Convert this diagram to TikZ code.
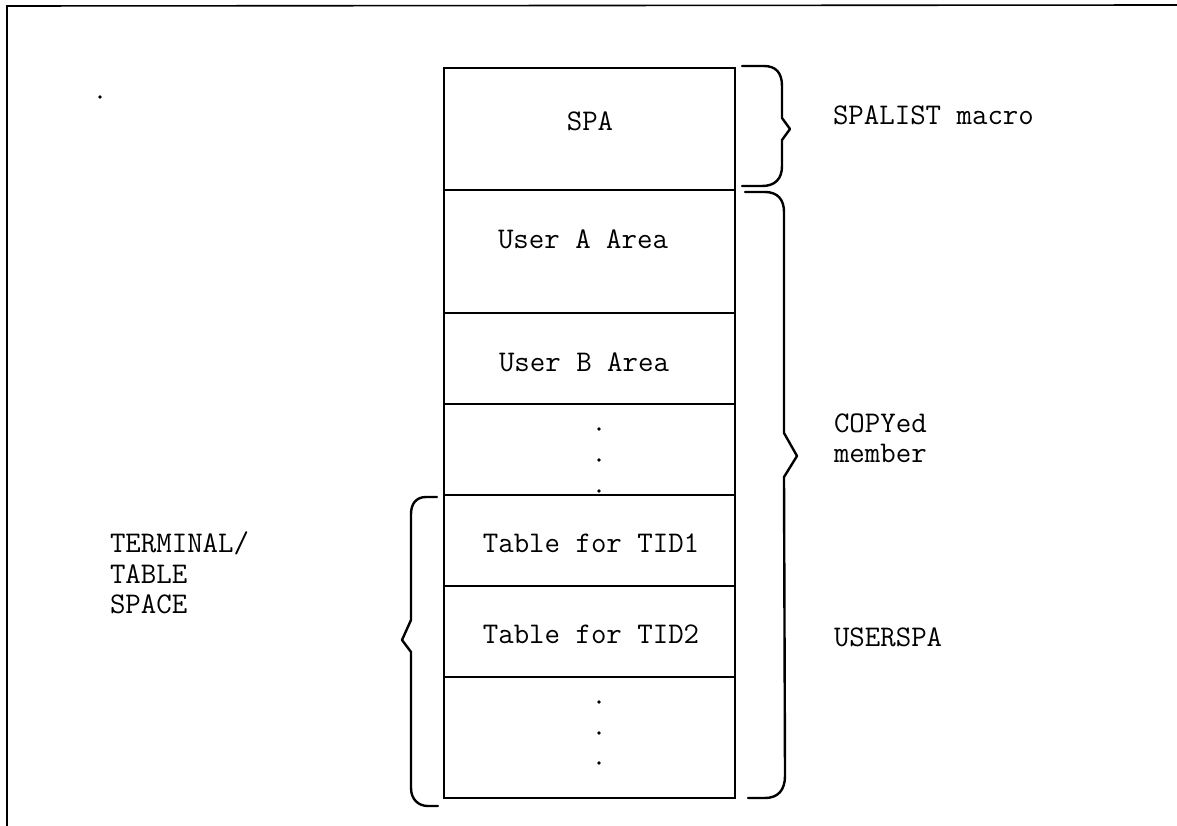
\documentclass[tikz,border=0pt]{standalone}
\usepackage{fontspec}
\begin{document}
\begin{tikzpicture}[x=1pt,y=-1pt,
  cell/.style={draw, line width=1.5pt, minimum width=291pt, inner sep=0pt, outer sep=0pt},
  lbl/.style={font=\fontsize{30}{36}\selectfont\ttfamily, inner sep=0pt, outer sep=0pt},
  brace/.style={line width=2.4pt, line cap=round, line join=round},
  frame/.style={line width=1.6pt}]
\useasboundingbox (0,0) rectangle (1177,826);
% frame
\draw[frame] (7,826) -- (7,6) -- (1177,5);
\fill (100,97) circle (1.8);
% cells
\node[cell, minimum height=122pt] (spa)  at (589.5,129) {};
\node[cell, minimum height=123pt] (usera) at (589.5,251.5) {};
\node[cell, minimum height=91pt]  (userb) at (589.5,358.5) {};
\node[cell, minimum height=91pt]  (dotsa) at (589.5,449.5) {};
\node[cell, minimum height=91pt]  (tida) at (589.5,540.5) {};
\node[cell, minimum height=91pt]  (tidb) at (589.5,631.5) {};
\node[cell, minimum height=121pt] (dotsb) at (589.5,737.5) {};
% cell labels
\node[lbl, anchor=base] (spaL) at (590,131) {SPA};
\node[lbl, anchor=base] (useraL) at (583,248) {User A Area};
\node[lbl, anchor=base] (userbL) at (584,371) {User B Area};
\node[lbl, anchor=base] (tidaL) at (591,552) {Table for TID1};
\node[lbl, anchor=base] (tidbL) at (591,643) {Table for TID2};
% dots
\foreach \yy in {429,460,491,702,733,763} \fill (599,\yy) circle (1.8);
% side labels
\node[lbl, anchor=base west] (spalist) at (833,125) {SPALIST macro};
\node[lbl, anchor=base west] (copyed) at (834,432) {COPYed};
\node[lbl, anchor=base west] (member) at (834,462) {member};
\node[lbl, anchor=base west] (userspa) at (834,646) {USERSPA};
\node[lbl, anchor=base west] (term) at (110,552) {TERMINAL/};
\node[lbl, anchor=base west] (table) at (110,583) {TABLE};
\node[lbl, anchor=base west] (space) at (110,613) {SPACE};
% braces
\draw[brace] (742,66) -- (764,66) .. controls (776,66) and (782,73) .. (782,86)
  -- (782,118) -- (790,129) -- (782,140) -- (782,166)
  .. controls (782,179) and (775,186) .. (762,186) -- (742,186);
\draw[brace] (745,192) -- (765,192) .. controls (778,192) and (784,200) .. (784,212)
  -- (784,433) -- (797,456) -- (784,477) -- (785,776)
  .. controls (785,790) and (778,798) .. (765,798) -- (748,798);
\draw[brace] (437,497) -- (426,497) .. controls (416,497) and (411,504) .. (411,514)
  -- (411,620) -- (402,640) -- (411,652) -- (411,788)
  .. controls (411,799) and (418,806) .. (428,806) -- (438,806);
\end{tikzpicture}
\end{document}
